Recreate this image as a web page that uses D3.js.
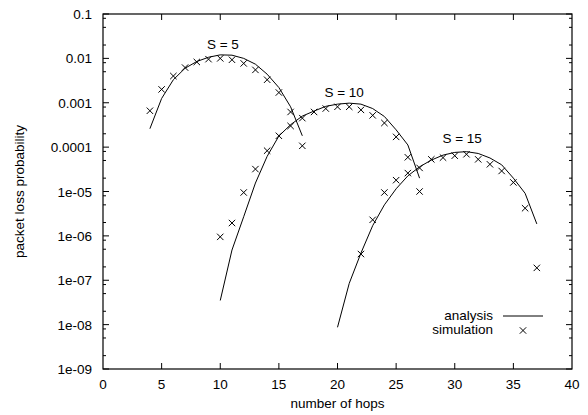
<!DOCTYPE html>
<html>
<head>
<meta charset="utf-8">
<script src="https://cdn.jsdelivr.net/npm/d3@7"></script>
<style>
  body { margin: 0; background: #fff; }
  text { font-family: "Liberation Sans", Arial, sans-serif; font-size: 13.5px; fill: #000; }
</style>
</head>
<body>
<svg id="chart" width="588" height="415"></svg>
<script>
// number of hops for each series
const hops5 = [4, 5, 6, 7, 8, 9, 10, 11, 12, 13, 14, 15, 16, 17];
const hops10 = [10, 11, 12, 13, 14, 15, 16, 17, 18, 19, 20, 21, 22, 23, 24, 25, 26, 27];
const hops15 = [20, 21, 22, 23, 24, 25, 26, 27, 28, 29, 30, 31, 32, 33, 34, 35, 36, 37];

// analysis curves
const analysis5 = [2.6e-4, 1.25e-3, 3.3e-3, 6.0e-3, 8.5e-3, 1.06e-2, 1.2e-2, 1.18e-2, 1.0e-2, 7.4e-3, 4.4e-3, 2.2e-3, 8.1e-4, 1.8e-4];
const analysis10 = [3.5e-8, 4.8e-7, 2.7e-6, 1.55e-5, 6.2e-5, 1.78e-4, 3.2e-4, 5.0e-4, 6.5e-4, 8.3e-4, 9.3e-4, 9.8e-4, 9.3e-4, 7.4e-4, 4.9e-4, 2.45e-4, 1.12e-4, 2.0e-5];
const analysis15 = [8.7e-9, 8.5e-8, 4.1e-7, 1.7e-6, 5.0e-6, 1.15e-5, 2.25e-5, 3.6e-5, 5.1e-5, 6.6e-5, 7.6e-5, 7.9e-5, 7.2e-5, 5.7e-5, 4.0e-5, 2.0e-5, 9.1e-6, 1.86e-6];

// simulation points
const sim5 = [6.6e-4, 2.0e-3, 4.0e-3, 6.2e-3, 8.3e-3, 9.6e-3, 1.0e-2, 9.3e-3, 7.7e-3, 5.5e-3, 3.3e-3, 1.7e-3, 6.2e-4, 1.07e-4];
const sim10 = [9.5e-7, 1.95e-6, 9.5e-6, 3.2e-5, 8.3e-5, 1.8e-4, 3.0e-4, 4.5e-4, 6.2e-4, 7.4e-4, 8.1e-4, 8.1e-4, 6.9e-4, 5.2e-4, 3.5e-4, 1.7e-4, 5.9e-5, 1.0e-5];
const sim15 = [null, null, 3.9e-7, 2.3e-6, 9.5e-6, 1.8e-5, 2.6e-5, 3.4e-5, 5.3e-5, 5.8e-5, 6.4e-5, 6.9e-5, 5.3e-5, 4.1e-5, 2.9e-5, 1.6e-5, 4.2e-6, 1.9e-7];

const curveLabels = [
  { text: "S = 5", x: 10.23, y: 1.63e-2 },
  { text: "S = 10", x: 20.57, y: 1.33e-3 },
  { text: "S = 15", x: 30.63, y: 1.22e-4 }
];

const xTicks = [0, 5, 10, 15, 20, 25, 30, 35, 40];
const yTicks = [1e-9, 1e-8, 1e-7, 1e-6, 1e-5, 1e-4, 1e-3, 1e-2, 1e-1];
const yTickLabels = ["1e-09", "1e-08", "1e-07", "1e-06", "1e-05", "0.0001", "0.001", "0.01", "0.1"];
const yMinor = [2, 5, 8];

const svg = d3.select("#chart");
const margin = { top: 14, right: 16, bottom: 46, left: 103 };
const width = +svg.attr("width");
const height = +svg.attr("height");

const x = d3.scaleLinear().domain([0, 40]).range([margin.left, width - margin.right]);
const y = d3.scaleLog().domain([1e-9, 0.1]).range([height - margin.bottom, margin.top]);

const x0 = x.range()[0], x1 = x.range()[1];
const y0 = y.range()[0], y1 = y.range()[1];

// ticks (drawn inward on all four sides)
const tk = svg.append("g").attr("stroke", "#000").attr("stroke-width", 1);
xTicks.slice(1, -1).forEach(t => {
  tk.append("line").attr("x1", x(t)).attr("x2", x(t)).attr("y1", y0).attr("y2", y0 - 6);
  tk.append("line").attr("x1", x(t)).attr("x2", x(t)).attr("y1", y1).attr("y2", y1 + 6);
});
yTicks.forEach(t => {
  tk.append("line").attr("x1", x0).attr("x2", x0 + 6).attr("y1", y(t)).attr("y2", y(t));
  tk.append("line").attr("x1", x1).attr("x2", x1 - 6).attr("y1", y(t)).attr("y2", y(t));
  if (t < 0.1) {
    yMinor.forEach(m => {
      const v = t * m;
      tk.append("line").attr("x1", x0).attr("x2", x0 + 3).attr("y1", y(v)).attr("y2", y(v));
      tk.append("line").attr("x1", x1).attr("x2", x1 - 3).attr("y1", y(v)).attr("y2", y(v));
    });
  }
});

// frame
svg.append("rect")
  .attr("x", x0).attr("y", y1)
  .attr("width", x1 - x0).attr("height", y0 - y1)
  .attr("fill", "none").attr("stroke", "#000").attr("stroke-width", 1.2);

// tick labels
svg.append("g").selectAll("text")
  .data(xTicks).enter().append("text")
  .attr("x", d => x(d)).attr("y", y0 + 20)
  .attr("text-anchor", "middle")
  .text(d => d);

svg.append("g").selectAll("text")
  .data(yTicks).enter().append("text")
  .attr("x", x0 - 11).attr("y", d => y(d) + 5)
  .attr("text-anchor", "end")
  .text((d, i) => yTickLabels[i]);

// axis titles
svg.append("text")
  .attr("x", (x0 + x1) / 2).attr("y", height - 7)
  .attr("text-anchor", "middle")
  .text("number of hops");

svg.append("text")
  .attr("transform", `translate(24,${(y0 + y1) / 2}) rotate(-90)`)
  .attr("text-anchor", "middle")
  .text("packet loss probability");

// analysis lines
const line = d3.line().x(d => x(d[0])).y(d => y(d[1]));
[[hops5, analysis5], [hops10, analysis10], [hops15, analysis15]].forEach(([h, v]) => {
  svg.append("path")
    .datum(h.map((d, i) => [d, v[i]]))
    .attr("d", line)
    .attr("fill", "none")
    .attr("stroke", "#000")
    .attr("stroke-width", 1);
});

// simulation crosses
function cross(g, cx, cy) {
  const r = 3.2;
  g.append("path")
    .attr("d", `M${cx - r},${cy - r}L${cx + r},${cy + r}M${cx - r},${cy + r}L${cx + r},${cy - r}`)
    .attr("stroke", "#000").attr("stroke-width", 1).attr("fill", "none");
}
const pts = svg.append("g");
[[hops5, sim5], [hops10, sim10], [hops15, sim15]].forEach(([h, v]) => {
  h.forEach((d, i) => {
    if (v[i] != null) cross(pts, x(d), y(v[i]));
  });
});

// curve labels
svg.append("g").selectAll("text")
  .data(curveLabels).enter().append("text")
  .attr("x", d => x(d.x)).attr("y", d => y(d.y))
  .attr("text-anchor", "middle")
  .text(d => d.text);

// legend
const lg = svg.append("g");
lg.append("text").attr("x", 493).attr("y", 320).attr("text-anchor", "end").text("analysis");
lg.append("line").attr("x1", 503).attr("x2", 543).attr("y1", 316).attr("y2", 316)
  .attr("stroke", "#000").attr("stroke-width", 1);
lg.append("text").attr("x", 493).attr("y", 334).attr("text-anchor", "end").text("simulation");
cross(lg, 523, 330.5);
</script>
</body>
</html>
